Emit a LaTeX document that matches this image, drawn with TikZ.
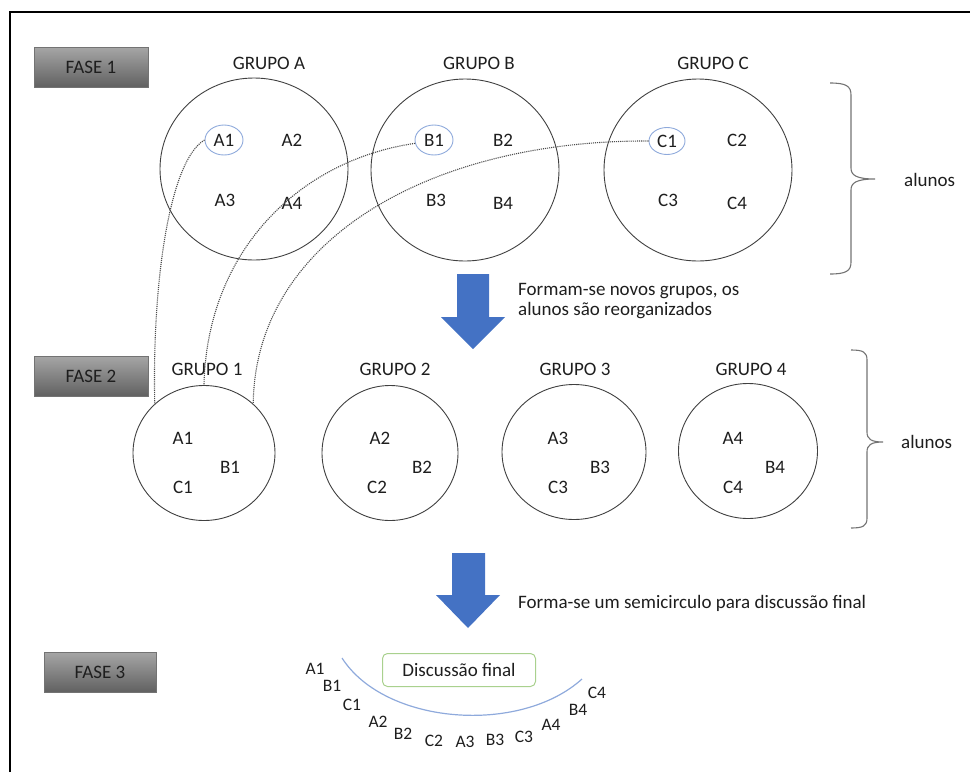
\documentclass[tikz,border=0pt]{standalone}
\usepackage{fontspec}
\setmainfont{Carlito}
\usetikzlibrary{shapes.geometric}
\definecolor{arrowblue}{HTML}{4472C4}
\definecolor{hlblue}{HTML}{8EA9DB}
\definecolor{arcblue}{HTML}{8FAADC}
\definecolor{boxgreen}{HTML}{A9D18E}
\definecolor{txt}{HTML}{1E1E1E}
\tikzset{
  member/.style={font=\fontsize{19}{21}\selectfont, text=txt, inner sep=1pt},
  smallmember/.style={font=\fontsize{17.5}{19}\selectfont, text=txt, inner sep=1pt},
  hl/.style={draw=hlblue, line width=0.9, ellipse, minimum width=38, minimum height=30, inner sep=0pt},
  grplabel/.style={font=\fontsize{19}{21}\selectfont, text=txt, inner sep=1pt},
  bigcircle/.style={draw=black!75, line width=0.9, ellipse, minimum width=188, minimum height=182},
  smallcircle/.style={draw=black!75, line width=0.9, ellipse, minimum height=135},
  fasebox/.style={draw=black!55, line width=0.8, top color=black!35, bottom color=black!62, minimum width=114, minimum height=40, font=\fontsize{19}{21}\selectfont, text=txt, inner sep=0pt},
  conn/.style={densely dotted, draw=black!70, line width=1.1},
  bracket/.style={draw=black!55, line width=1.1},
  bluearrow/.style={fill=arrowblue, draw=none},
  note/.style={font=\fontsize{19}{21}\selectfont, text=txt, inner sep=0pt, align=left},
  discbox/.style={draw=boxgreen, line width=1, rounded corners=5, minimum width=153, minimum height=33, font=\fontsize{19}{21}\selectfont, text=txt},
}
\begin{document}
\begin{tikzpicture}[x=1pt,y=-1pt]
\useasboundingbox (0,0) rectangle (970,772);
% frame
\draw[line width=1.6] (10,772) -- (10,12) -- (970,12);

% phase boxes
\node[fasebox] (f1) at (91,67) {FASE 1};
\node[fasebox] (f2) at (91,376) {FASE 2};
\node[fasebox, minimum width=112] (f3) at (100,672) {FASE 3};

% phase 1 groups
\node[bigcircle] (ga) at (254,169) {};
\node[bigcircle] (gb) at (465,170) {};
\node[bigcircle] (gc) at (698,170) {};
\node[grplabel] (la) at (269,63) {GRUPO A};
\node[grplabel] (lb) at (479,63) {GRUPO B};
\node[grplabel] (lc) at (713,63) {GRUPO C};

\node[member, hl] (a1) at (224,140) {A1};
\node[member] (a2) at (292,140) {A2};
\node[member] (a3) at (225,200) {A3};
\node[member] (a4) at (292,203) {A4};
\node[member, hl] (b1) at (434,140) {B1};
\node[member] (b2) at (503,140) {B2};
\node[member] (b3) at (436,200) {B3};
\node[member] (b4) at (503,203) {B4};
\node[member, hl, minimum width=36, minimum height=27] (c1) at (667,141) {C1};
\node[member] (c2) at (737,140) {C2};
\node[member] (c3) at (668,200) {C3};
\node[member] (c4) at (737,203) {C4};

% bracket 1
\draw[bracket] (830,83) .. controls (846,83) and (851,86) .. (851,95) -- (851,168)
  .. controls (851,175) and (856,179) .. (875,179)
  .. controls (856,179) and (851,183) .. (851,190) -- (851,262)
  .. controls (851,271) and (846,274) .. (830,274);
\node[grplabel, anchor=west] (al1) at (903,180) {alunos};

% arrow 1
\fill[bluearrow] (457,274) -- (489,274) -- (489,317) -- (505,317) -- (473,349) -- (441,317) -- (457,317) -- cycle;
\node[note, anchor=north west] (n1) at (518,283) {Formam-se novos grupos, os\\[-1pt]alunos são reorganizados};

% phase 2 groups
\node[smallcircle, minimum width=142] (g1) at (204,453) {};
\node[smallcircle, minimum width=136] (g2) at (390,453) {};
\node[smallcircle, minimum width=144] (g3) at (574,452) {};
\node[smallcircle, minimum width=139] (g4) at (748,451) {};

% connectors
\draw[conn] (a1.west) .. controls (170,160) and (152,280) .. (g1.135);
\draw[conn] (b1.190) .. controls (300,160) and (207,250) .. (g1.north);
\draw[conn] (c1.west) .. controls (430,140) and (255,240) .. (g1.45);

\node[grplabel] (l1) at (207,369) {GRUPO 1};
\node[grplabel] (l2) at (395,369) {GRUPO 2};
\node[grplabel] (l3) at (575,369) {GRUPO 3};
\node[grplabel] (l4) at (751,369) {GRUPO 4};

\node[member] (pa1) at (183,438) {A1};
\node[member] (pb1) at (230,467) {B1};
\node[member] (pc1) at (183,487) {C1};
\node[member] (pa2) at (380,438) {A2};
\node[member] (pb2) at (422,467) {B2};
\node[member] (pc2) at (377,487) {C2};
\node[member] (pa3) at (558,438) {A3};
\node[member] (pb3) at (600,467) {B3};
\node[member] (pc3) at (558,487) {C3};
\node[member] (pa4) at (733,438) {A4};
\node[member] (pb4) at (775,467) {B4};
\node[member] (pc4) at (733,487) {C4};

% bracket 2
\draw[bracket] (851,350) .. controls (863,350) and (867,352) .. (867,360) -- (867,432)
  .. controls (867,439) and (871,442) .. (883,442)
  .. controls (871,442) and (867,445) .. (867,452) -- (867,518)
  .. controls (867,526) and (863,528) .. (851,528);
\node[grplabel, anchor=west] (al2) at (900,442) {alunos};

% arrow 2
\fill[bluearrow] (452,553) -- (485,553) -- (485,595) -- (500,595) -- (468,628) -- (436,595) -- (452,595) -- cycle;
\node[note, anchor=west] (n2) at (518,603) {Forma-se um semicirculo para discussão final};

% phase 3
\node[discbox] (disc) at (459,670) {Discussão final};
\draw[draw=arcblue, line width=1.2] (342,658) .. controls (385,725) and (520,735) .. (582,679);

\node[smallmember] (qa1) at (315,669) {A1};
\node[smallmember] (qb1) at (332,686) {B1};
\node[smallmember] (qc1) at (352,705) {C1};
\node[smallmember] (qa2) at (378,722) {A2};
\node[smallmember] (qb2) at (403,734) {B2};
\node[smallmember] (qc2) at (434,741) {C2};
\node[smallmember] (qa3) at (465,742) {A3};
\node[smallmember] (qb3) at (495,740) {B3};
\node[smallmember] (qc3) at (524,737) {C3};
\node[smallmember] (qa4) at (551,725) {A4};
\node[smallmember] (qb4) at (578,710) {B4};
\node[smallmember] (qc4) at (597,693) {C4};
\end{tikzpicture}
\end{document}
